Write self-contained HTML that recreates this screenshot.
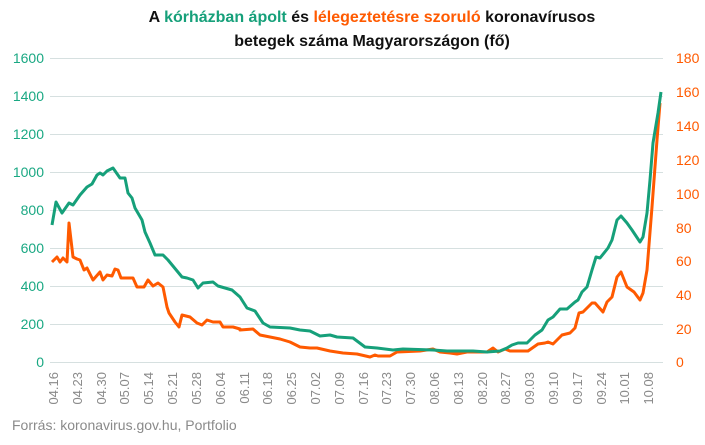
<!DOCTYPE html>
<html><head><meta charset="utf-8"><style>
body{margin:0;background:#fff;width:705px;height:440px;overflow:hidden;font-family:"Liberation Sans",Arial,sans-serif}
</style></head><body>
<svg width="705" height="440" xmlns="http://www.w3.org/2000/svg" font-family="Liberation Sans, Arial, sans-serif">
<g font-weight="bold" font-size="16" text-anchor="middle" fill="#111">
<text x="372" y="22">A <tspan fill="#16a07a">kórházban ápolt</tspan> és <tspan fill="#ff5a00">lélegeztetésre szoruló</tspan> koronavírusos</text>
<text x="372" y="46">betegek száma Magyarországon  (fő)</text>
</g>
<g stroke="#d6e0e0" stroke-width="1">
<line x1="50" x2="663" y1="58.5" y2="58.5"/><line x1="50" x2="663" y1="96.5" y2="96.5"/>
<line x1="50" x2="663" y1="134.5" y2="134.5"/><line x1="50" x2="663" y1="172.5" y2="172.5"/>
<line x1="50" x2="663" y1="210.5" y2="210.5"/><line x1="50" x2="663" y1="248.5" y2="248.5"/>
<line x1="50" x2="663" y1="286.5" y2="286.5"/><line x1="50" x2="663" y1="324.5" y2="324.5"/>
<line x1="50" x2="663" y1="362.5" y2="362.5"/>
</g>
<g font-size="14" fill="#1aa883" text-anchor="end">
<text x="44" y="63">1600</text><text x="44" y="101">1400</text><text x="44" y="139">1200</text>
<text x="44" y="177">1000</text><text x="44" y="215">800</text><text x="44" y="253">600</text>
<text x="44" y="291">400</text><text x="44" y="329">200</text><text x="44" y="367">0</text>
</g>
<g font-size="14" fill="#ff5a00" text-anchor="start">
<text x="676" y="63">180</text><text x="676" y="97">160</text><text x="676" y="131">140</text>
<text x="676" y="165">120</text><text x="676" y="199">100</text><text x="676" y="233">80</text>
<text x="676" y="266">60</text><text x="676" y="300">40</text><text x="676" y="334">20</text>
<text x="676" y="367">0</text>
</g>
<g font-size="13" fill="#8a8a8a" text-anchor="end">
<text transform="translate(58,372) rotate(-90)">04.16</text>
<text transform="translate(82,372) rotate(-90)">04.23</text>
<text transform="translate(106,372) rotate(-90)">04.30</text>
<text transform="translate(129,372) rotate(-90)">05.07</text>
<text transform="translate(153,372) rotate(-90)">05.14</text>
<text transform="translate(177,372) rotate(-90)">05.21</text>
<text transform="translate(201,372) rotate(-90)">05.28</text>
<text transform="translate(225,372) rotate(-90)">06.04</text>
<text transform="translate(249,372) rotate(-90)">06.11</text>
<text transform="translate(272,372) rotate(-90)">06.18</text>
<text transform="translate(296,372) rotate(-90)">06.25</text>
<text transform="translate(320,372) rotate(-90)">07.02</text>
<text transform="translate(344,372) rotate(-90)">07.09</text>
<text transform="translate(368,372) rotate(-90)">07.16</text>
<text transform="translate(391,372) rotate(-90)">07.23</text>
<text transform="translate(415,372) rotate(-90)">07.30</text>
<text transform="translate(439,372) rotate(-90)">08.06</text>
<text transform="translate(463,372) rotate(-90)">08.13</text>
<text transform="translate(487,372) rotate(-90)">08.20</text>
<text transform="translate(510,372) rotate(-90)">08.27</text>
<text transform="translate(534,372) rotate(-90)">09.03</text>
<text transform="translate(558,372) rotate(-90)">09.10</text>
<text transform="translate(582,372) rotate(-90)">09.17</text>
<text transform="translate(606,372) rotate(-90)">09.24</text>
<text transform="translate(629,372) rotate(-90)">10.01</text>
<text transform="translate(653,372) rotate(-90)">10.08</text>
</g>
<polyline fill="none" stroke="#ff5a00" stroke-width="3" stroke-linejoin="round" points="52,262 57,257 60,262 63,258 67,262 69,223 73,257 77,259 80,260 84,270 87,268 93,280 100,272 103,280 107,275 112,276 115,269 118,270 121,278 133,278 137,287 144,287 148,280 153,286 158,283 163,287 167,307 169,313 175,322 179,327 182,315 190,317 197,323 202,325 207,320 213,322 220,322 223,327 233,327 240,329 240,330 253,329 260,335 270,337 280,339 290,342 300,347 310,348 317,348 330,351 343,353 357,354 370,357 375,355 378,356 390,356 397,352 420,351 433,349 440,352 450,353 457,354 467,352 487,352 493,348 498,352 505,349 510,351 528,351 538,344 545,343 548,342 553,344 562,335 570,333 575,328 579,313 583,312 592,303 595,303 603,312 607,302 612,297 617,277 621,272 627,287 634,292 640,300 643,293 647,270 652,207 657,140 660,103"/>
<polyline fill="none" stroke="#16a07a" stroke-width="3" stroke-linejoin="round" points="52,225 56,202 62,213 69,203 73,205 80,195 87,187 92,184 97,175 100,173 103,175 107,171 113,168 120,178 125,178 128,193 132,198 135,208 142,220 145,232 150,243 155,255 163,255 168,260 182,277 187,278 193,280 198,288 203,283 213,282 218,286 225,288 232,290 240,297 247,308 255,311 263,323 270,327 290,328 300,330 310,331 320,336 330,335 337,337 353,338 365,347 377,348 393,350 403,349 433,350 447,351 473,351 487,352 500,351 507,348 512,345 518,343 527,343 535,335 542,330 548,320 553,317 560,309 567,309 575,302 578,300 582,292 587,287 592,270 596,257 600,258 608,248 612,240 617,220 621,216 627,223 632,230 640,242 643,237 647,213 650,180 653,143 658,113 661,92"/>
<text x="12" y="430" font-size="14" fill="#8a8a8a">Forrás: koronavirus.gov.hu, Portfolio</text>
</svg>
</body></html>
